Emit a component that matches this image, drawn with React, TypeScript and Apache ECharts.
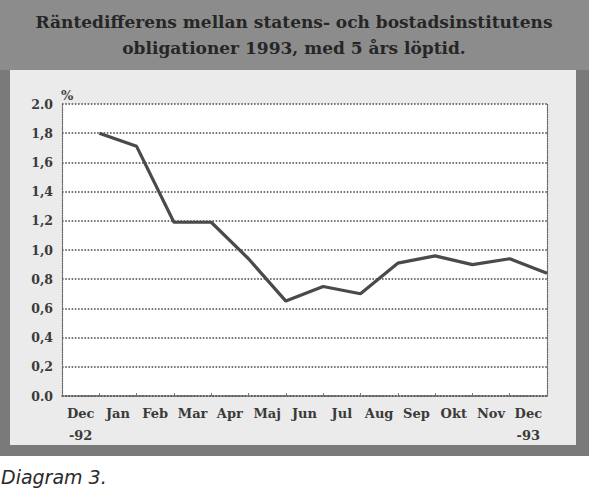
import React, { useEffect, useRef } from "react";
import * as echarts from "echarts";

const titleLines = [
  "Räntedifferens mellan statens- och bostadsinstitutens",
  "obligationer 1993, med 5 års löptid.",
];
const monthLabels = [
  "Dec\n-92", "Jan", "Feb", "Mar", "Apr", "Maj", "Jun",
  "Jul", "Aug", "Sep", "Okt", "Nov", "Dec\n-93",
];
const spreadValues = [1.8, 1.71, 1.19, 1.19, 0.94, 0.65, 0.75, 0.7, 0.91, 0.96, 0.9, 0.94, 0.84];
const yTickLabels: Record<string, string> = {
  "0": "0.0", "0.2": "0,2", "0.4": "0,4", "0.6": "0,6", "0.8": "0,8",
  "1": "1,0", "1.2": "1,2", "1.4": "1,4", "1.6": "1,6", "1.8": "1,8", "2": "2.0",
};
const unitLabel = "%";
const captionText = "Diagram 3.";

const SERIF = "'DejaVu Serif', 'Liberation Serif', serif";

export default function App() {
  const ref = useRef<HTMLDivElement>(null);
  useEffect(() => {
    document.body.style.margin = "0";
    document.body.style.background = "#fff";
    const chart = echarts.init(ref.current!, undefined, { renderer: "svg" });
    const lineData = spreadValues.map((v, i) => [i, v]);
    chart.setOption({
      animation: false,
      backgroundColor: "#ffffff",
      graphic: [
        { type: "rect", z: -10, shape: { x: 0, y: 0, width: 589, height: 456 }, style: { fill: "#7a7a7a" } },
        { type: "rect", z: -10, shape: { x: 0, y: 0, width: 589, height: 70 }, style: { fill: "#8c8c8c" } },
        { type: "rect", z: -9, shape: { x: 10, y: 70, width: 566, height: 375 }, style: { fill: "#ebebeb" } },
        {
          type: "text", z: 5, x: 294, y: 22,
          style: {
            text: titleLines[0], fill: "#262626", font: `bold 17px ${SERIF}`,
            align: "center", verticalAlign: "middle",
          },
        },
        {
          type: "text", z: 5, x: 294, y: 48,
          style: {
            text: titleLines[1], fill: "#262626", font: `bold 17px ${SERIF}`,
            align: "center", verticalAlign: "middle",
          },
        },
        {
          type: "text", z: 5, x: 61, y: 89,
          style: { text: unitLabel, fill: "#444", font: `bold 13px ${SERIF}` },
        },
        {
          type: "text", z: 5, x: 1, y: 467,
          style: { text: captionText, fill: "#2a2a2a", font: `italic 19px 'DejaVu Sans', sans-serif` },
        },
      ],
      grid: {
        left: 62, top: 104, width: 485, height: 292,
        show: true, backgroundColor: "#ffffff", borderWidth: 0,
      },
      xAxis: [
        {
          type: "category", data: monthLabels, boundaryGap: true, position: "bottom",
          axisLine: { show: true, lineStyle: { color: "#555", type: "dotted", width: 1.5 } },
          axisTick: { show: true, inside: true, length: 3, interval: 0, lineStyle: { color: "#777" } },
          axisLabel: {
            interval: 0, margin: 6, color: "#3a3a3a", fontFamily: SERIF, fontWeight: "bold",
            fontSize: 13, lineHeight: 22,
          },
          splitLine: { show: false },
        },
        { type: "value", min: -1, max: 12, show: false },
      ],
      yAxis: [
        {
          type: "value", min: 0, max: 2, interval: 0.2,
          axisLine: { show: true, onZero: false, lineStyle: { color: "#666", type: "dotted", width: 1.2 } },
          axisTick: { show: false },
          axisLabel: {
            margin: 9, color: "#3a3a3a", fontFamily: SERIF, fontWeight: "bold", fontSize: 12.5,
            formatter: (v: number) => yTickLabels[String(Math.round(v * 10) / 10)] ?? String(v),
          },
          splitLine: { show: true, lineStyle: { color: "#4a4a4a", type: "dotted", width: 1.6 } },
        },
        {
          type: "value", min: 0, max: 2, position: "right",
          axisLine: { show: true, onZero: false, lineStyle: { color: "#666", type: "dotted", width: 1.2 } },
          axisTick: { show: false }, axisLabel: { show: false }, splitLine: { show: false },
        },
      ],
      series: [
        {
          type: "line", xAxisIndex: 1, yAxisIndex: 0, data: lineData,
          symbol: "none", lineStyle: { color: "#4a4a4a", width: 3.2 }, z: 10,
        },
      ],
    });
    return () => chart.dispose();
  }, []);
  return <div ref={ref} style={{ width: 592, height: 493 }} />;
}
